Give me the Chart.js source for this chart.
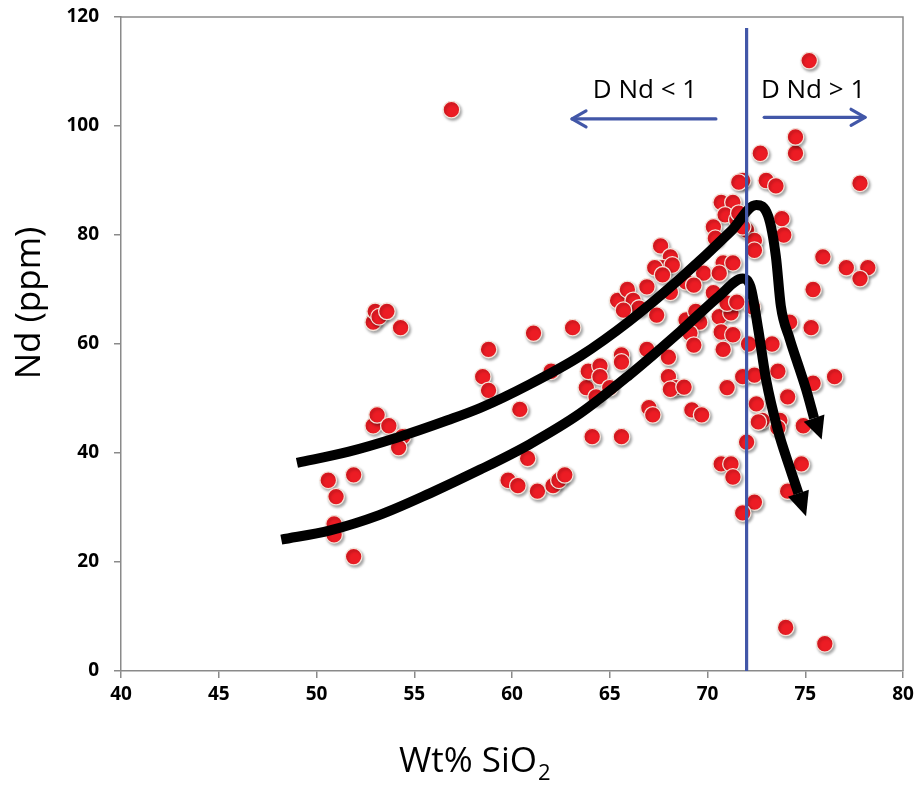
<!DOCTYPE html>
<html>
<head>
<meta charset="utf-8">
<script src="https://cdn.jsdelivr.net/npm/chart.js@4.4.0/dist/chart.umd.min.js"></script>
<style>
  html, body { margin: 0; padding: 0; background: #fff; }
  #wrap { width: 918px; height: 785px; }
</style>
</head>
<body>
<div id="wrap"><canvas id="ndChart" width="918" height="785"></canvas></div>
<script>
// sample analyses
const sio2 = [50.6, 50.9, 50.9, 51.0, 51.9, 51.9, 52.9, 53.1, 53.7, 54.4, 54.2, 52.9, 53.0, 53.2, 53.6, 54.3,
  56.9, 58.5, 58.8, 58.8, 60.4, 59.8, 60.3, 60.8, 61.3, 62.1, 62.4, 62.7, 61.1, 63.1, 62.0,
  63.8, 63.9, 64.3, 64.5, 64.5, 65.0, 64.1, 65.6, 65.6, 65.6, 66.9, 68.0, 68.0, 68.4, 68.1, 67.0, 67.2, 69.2, 69.7,
  65.4, 65.9, 66.2, 66.5, 65.7, 67.4, 66.9, 67.6, 68.1, 67.7, 67.3, 68.2, 67.7, 68.1, 68.9,
  69.8, 69.3, 70.3, 68.9, 69.6, 69.4, 70.6, 71.2, 71.0, 71.5, 70.7, 71.3, 69.1, 70.8, 69.3, 68.8,
  70.8, 71.3, 70.6, 70.7, 71.3, 70.9, 70.3, 71.5, 72.0, 70.4, 72.4, 72.4, 71.8, 71.6, 71.8, 71.6,
  72.7, 74.5, 74.5, 75.2, 73.0, 73.5, 77.8, 73.8, 73.9, 75.9, 77.1, 78.2, 77.8, 75.4,
  72.3, 74.2, 75.3, 72.1, 73.3, 73.6, 71.8, 72.4, 71.0, 75.4, 76.5, 74.1, 72.5, 72.8, 72.6, 73.7, 73.6, 74.9,
  72.0, 70.7, 71.2, 71.3, 74.8, 74.1, 72.4, 71.8, 74.0, 76.0];
const nd = [35, 27, 25, 32, 36, 21, 45, 47, 45, 43, 41, 64, 66, 65, 66, 63,
  103, 54, 51.5, 59, 48, 35, 34, 39, 33, 34, 35, 36, 62, 63, 55,
  52, 55, 50.3, 56, 54, 52, 43, 43, 58, 56.7, 59, 57.6, 54, 52, 51.7, 48.3, 47, 47.9, 47,
  68, 70, 68, 66.6, 66.2, 65.3, 70.5, 78, 76, 74, 74, 74.5, 72.7, 69.5, 71.4,
  73, 70.8, 69.4, 64.4, 64, 66, 65, 65.7, 67.5, 67.7, 62.2, 61.7, 62, 59, 59.8, 52.1,
  74.9, 74.9, 73, 86, 86, 83.7, 81.5, 82.8, 80.9, 79.4, 79, 77.2, 90, 89.7, 81.5, 84,
  95, 95, 98, 112, 90, 89, 89.5, 83, 80, 76, 74, 74, 72, 70,
  66.8, 64, 63, 60, 60, 55, 54, 54.3, 52, 52.8, 54, 50.3, 49, 46, 45.7, 46, 44.6, 45,
  42, 38, 38, 35.6, 38, 33, 31, 29, 8, 5];

// hand-drawn trend arrows
const upperSio2 = [49.0, 51.6, 54.1, 56.7, 58.4, 60.9, 63.5, 66.0, 68.6, 71.2, 72.5, 73.1, 73.5, 73.75, 74.2, 74.7, 75.1, 75.45];
const upperNd = [38.2, 40.2, 42.8, 46.0, 48.3, 52.6, 57.8, 64.2, 72.0, 80.7, 85.5, 83.5, 76.0, 67.0, 61.0, 55.5, 51.0, 46.4];
const upperTip = [75.84, 42.5];
const lowerSio2 = [48.2, 50.7, 53.2, 55.8, 58.4, 60.9, 63.5, 66.0, 68.6, 70.6, 71.8, 72.2, 72.6, 73.0, 73.6, 74.2, 74.65];
const lowerNd = [24.1, 25.8, 28.6, 32.6, 37.0, 41.6, 47.3, 54.3, 62.3, 68.8, 72.0, 70.5, 62.6, 53.4, 44.2, 37.4, 32.6];
const lowerTip = [75.04, 28.4];

// D = 1 divide and its labels
const divideSio2 = 72;
const divideNd = [0, 118];
const leftArrowSio2 = [70.43, 63.07];
const leftArrowNd = 101.3;
const rightArrowSio2 = [72.9, 78.06];
const rightArrowNd = 101.6;
const leftLabel = 'D Nd < 1';
const rightLabel = 'D Nd > 1';
const labelNd = 105.2;
const leftLabelSio2 = 66.8;
const rightLabelSio2 = 75.4;

const xTicks = [40, 45, 50, 55, 60, 65, 70, 75, 80];
const yTicks = [0, 20, 40, 60, 80, 100, 120];

const axisGray = '#8a8a8a';
const divideBlue = '#4257a8';

const pts = (xs, ys) => xs.map((x, i) => ({ x: x, y: ys[i] }));

function drawHead(ctx, bx, by, tx, ty, half) {
    const dx = tx - bx, dy = ty - by;
    const len = Math.sqrt(dx * dx + dy * dy);
    const nx = -dy / len, ny = dx / len;
    ctx.beginPath();
    ctx.moveTo(tx, ty);
    ctx.lineTo(bx + nx * half, by + ny * half);
    ctx.lineTo(bx - nx * half, by - ny * half);
    ctx.closePath();
    ctx.fill();
}

function blueArrow(ctx, xs, yv, sx) {
    const x0 = sx.x.getPixelForValue(xs[0]);
    const x1 = sx.x.getPixelForValue(xs[1]);
    const y = sx.y.getPixelForValue(yv);
    const dir = x1 > x0 ? 1 : -1;
    ctx.strokeStyle = divideBlue;
    ctx.lineWidth = 3.2;
    ctx.lineCap = 'round';
    ctx.lineJoin = 'round';
    ctx.beginPath();
    ctx.moveTo(x0, y);
    ctx.lineTo(x1, y);
    ctx.stroke();
    ctx.beginPath();
    ctx.moveTo(x1 - dir * 14, y - 8);
    ctx.lineTo(x1, y);
    ctx.lineTo(x1 - dir * 14, y + 8);
    ctx.stroke();
}

const decor = {
    id: 'decor',
    beforeDatasetDraw(chart, args) {
        const ds = chart.data.datasets[args.index];
        if (ds.label === 'Samples') {
            const ctx = chart.ctx;
            ctx.save();
            ctx.shadowColor = 'rgba(0,0,0,0.35)';
            ctx.shadowBlur = 3;
            ctx.shadowOffsetX = 1.5;
            ctx.shadowOffsetY = 2;
        }
    },
    afterDatasetDraw(chart, args) {
        const ds = chart.data.datasets[args.index];
        const ctx = chart.ctx;
        if (ds.label === 'Samples') ctx.restore();
        if (ds.tip) {
            const s = chart.scales;
            const last = ds.data[ds.data.length - 1];
            ctx.save();
            ctx.fillStyle = '#000';
            drawHead(ctx, s.x.getPixelForValue(last.x), s.y.getPixelForValue(last.y),
                s.x.getPixelForValue(ds.tip[0]), s.y.getPixelForValue(ds.tip[1]), 11);
            ctx.restore();
        }
    },
    afterDraw(chart) {
        const ctx = chart.ctx;
        const a = chart.chartArea;
        const s = chart.scales;
        ctx.save();
        // plot frame
        ctx.strokeStyle = axisGray;
        ctx.lineWidth = 1.5;
        ctx.beginPath();
        ctx.moveTo(a.left, a.top);
        ctx.lineTo(a.right, a.top);
        ctx.lineTo(a.right, a.bottom);
        ctx.stroke();

        blueArrow(ctx, leftArrowSio2, leftArrowNd, s);
        blueArrow(ctx, rightArrowSio2, rightArrowNd, s);

        ctx.fillStyle = '#000';
        ctx.font = '26px "Open Sans"';
        ctx.textAlign = 'center';
        ctx.textBaseline = 'alphabetic';
        const ly = s.y.getPixelForValue(labelNd);
        ctx.fillText(leftLabel, s.x.getPixelForValue(leftLabelSio2), ly);
        ctx.fillText(rightLabel, s.x.getPixelForValue(rightLabelSio2), ly);

        // axis titles
        ctx.font = '35px "Open Sans"';
        ctx.save();
        ctx.translate(40, 303);
        ctx.rotate(-Math.PI / 2);
        ctx.fillText('Nd (ppm)', 0, 0);
        ctx.restore();

        ctx.textAlign = 'left';
        const main = 'Wt% SiO';
        ctx.fillText(main, 399, 772);
        const w = ctx.measureText(main).width;
        ctx.font = '22px "Open Sans"';
        ctx.fillText('2', 399 + w + 1, 780);
        ctx.restore();
    }
};

new Chart(document.getElementById('ndChart'), {
    type: 'scatter',
    data: {
        datasets: [
            {
                label: 'Divide',
                data: pts([divideSio2, divideSio2], divideNd),
                showLine: true,
                borderColor: divideBlue,
                borderWidth: 3.2,
                pointRadius: 0,
                order: 0
            },
            {
                label: 'Upper trend',
                data: pts(upperSio2, upperNd),
                tip: upperTip,
                showLine: true,
                borderColor: '#000',
                borderWidth: 10,
                borderCapStyle: 'butt',
                cubicInterpolationMode: 'monotone',
                pointRadius: 0,
                order: 1
            },
            {
                label: 'Lower trend',
                data: pts(lowerSio2, lowerNd),
                tip: lowerTip,
                showLine: true,
                borderColor: '#000',
                borderWidth: 10,
                borderCapStyle: 'butt',
                cubicInterpolationMode: 'monotone',
                pointRadius: 0,
                order: 1
            },
            {
                label: 'Samples',
                data: pts(sio2, nd),
                backgroundColor: '#ec1c24',
                borderColor: '#f4e4da',
                borderWidth: 1.3,
                pointRadius: 8.3,
                order: 2
            }
        ]
    },
    options: {
        responsive: false,
        animation: false,
        layout: { padding: { top: 17, right: 15, left: 0, bottom: 0 } },
        plugins: {
            legend: { display: false },
            tooltip: { enabled: false }
        },
        scales: {
            x: {
                type: 'linear',
                min: 40,
                max: 80,
                afterBuildTicks: (scale) => { scale.ticks = xTicks.map(v => ({ value: v })); },
                afterFit: (scale) => {
                    scale.height = 114;
                    scale.paddingLeft = 0;
                    scale.paddingRight = 0;
                },
                grid: { drawOnChartArea: false, drawTicks: true, tickLength: 7, color: axisGray, lineWidth: 1.5 },
                border: { color: axisGray, width: 1.5 },
                ticks: {
                    padding: 5,
                    color: '#000',
                    font: { family: '"Open Sans"', size: 19, weight: 'bold' }
                }
            },
            y: {
                type: 'linear',
                min: 0,
                max: 120,
                afterBuildTicks: (scale) => { scale.ticks = yTicks.map(v => ({ value: v })); },
                afterFit: (scale) => {
                    scale.width = 121;
                    scale.paddingTop = 0;
                    scale.paddingBottom = 0;
                },
                grid: { drawOnChartArea: false, drawTicks: true, tickLength: 7, color: axisGray, lineWidth: 1.5 },
                border: { color: axisGray, width: 1.5 },
                ticks: {
                    padding: 15,
                    color: '#000',
                    font: { family: '"Open Sans"', size: 19, weight: 'bold' }
                }
            }
        }
    },
    plugins: [decor]
});
</script>
</body>
</html>
